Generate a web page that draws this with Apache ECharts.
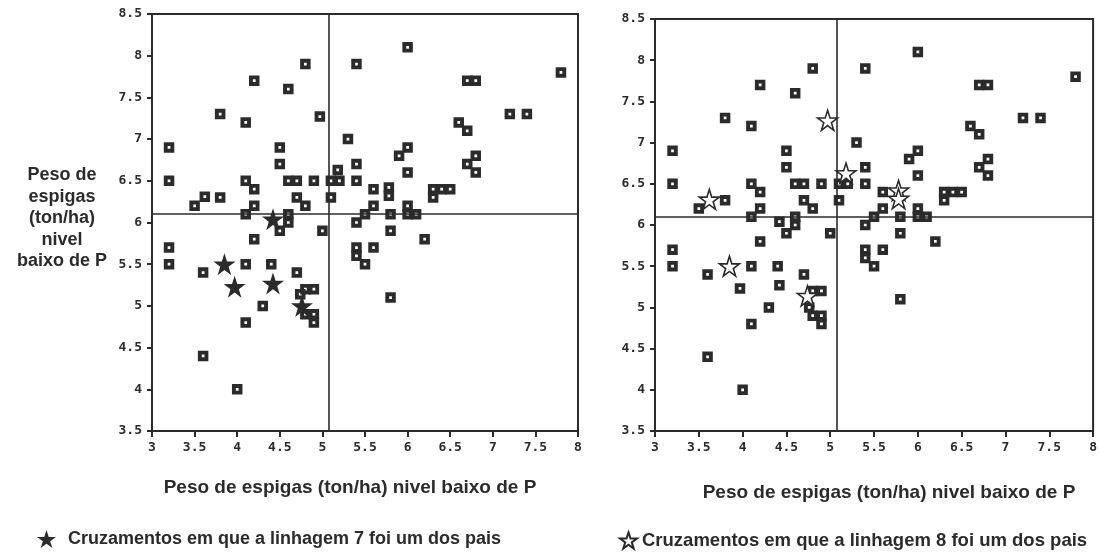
<!DOCTYPE html>
<html>
<head>
<meta charset="utf-8">
<script src="https://cdn.jsdelivr.net/npm/echarts@6/dist/echarts.min.js"></script>
<style>
  html, body { margin: 0; padding: 0; background: #ffffff; }
  #chart { width: 1100px; height: 553px; }
</style>
</head>
<body>
<div id="chart"></div>
<script>
// Points drawn as squares in both panels
var squarePts = [
  [3.2, 6.9], [3.2, 6.5], [3.5, 6.2], [3.8, 6.3], [3.8, 7.3], [4.2, 7.7], [4.1, 7.2],
  [4.6, 7.6], [4.8, 7.9], [4.5, 6.9], [4.5, 6.7], [4.1, 6.5], [4.2, 6.4], [4.2, 6.2],
  [4.1, 6.1], [4.6, 6.5], [4.7, 6.5], [4.7, 6.3], [4.8, 6.2], [4.9, 6.5], [5.1, 6.5],
  [5.2, 6.5], [5.1, 6.3], [4.6, 6.1], [4.6, 6.0], [4.5, 5.9], [5.0, 5.9], [3.2, 5.7],
  [3.2, 5.5], [3.6, 5.4], [4.2, 5.8], [4.1, 5.5], [4.4, 5.5], [4.7, 5.4], [4.8, 5.2],
  [4.9, 5.2], [4.8, 4.9], [4.9, 4.9], [4.9, 4.8], [4.3, 5.0], [4.1, 4.8], [3.6, 4.4],
  [4.0, 4.0], [6.0, 8.1], [5.4, 7.9], [6.7, 7.7], [6.8, 7.7], [7.2, 7.3], [7.4, 7.3],
  [7.8, 7.8], [6.6, 7.2], [6.7, 7.1], [5.3, 7.0], [6.0, 6.9], [5.9, 6.8], [6.8, 6.8],
  [6.7, 6.7], [6.8, 6.6], [5.4, 6.7], [6.0, 6.6], [5.4, 6.5], [5.6, 6.4], [5.6, 6.2],
  [5.5, 6.1], [5.4, 6.0], [5.8, 6.1], [6.0, 6.2], [6.0, 6.1], [6.1, 6.1], [6.3, 6.4],
  [6.4, 6.4], [6.5, 6.4], [6.3, 6.3], [5.8, 5.9], [6.2, 5.8], [5.4, 5.7], [5.4, 5.6],
  [5.5, 5.5], [5.6, 5.7], [5.8, 5.1]
];
// Crosses with line 7 as a parent (star on left panel)
var line7Pts = [[4.42, 6.04], [3.97, 5.23], [4.42, 5.27], [4.76, 5.0]];
// Crosses with line 8 as a parent (star on right panel)
var line8Pts = [[3.62, 6.31], [4.97, 7.27], [5.18, 6.63], [5.78, 6.42], [5.78, 6.32], [4.74, 5.14]];
// Crosses with both lines as parents
var bothPts = [[3.85, 5.5]];
// Reference lines (means)
var meanX = [5.07];
var meanY = [6.1];
var xTicks = ['3', '3.5', '4', '4.5', '5', '5.5', '6', '6.5', '7', '7.5', '8'];
var yTicks = ['3.5', '4', '4.5', '5', '5.5', '6', '6.5', '7', '7.5', '8', '8.5'];

var xTitle = 'Peso de espigas (ton/ha) nivel baixo de P';
var yTitle = 'Peso de\nespigas\n(ton/ha)\nnivel\nbaixo de P';
var legend7 = 'Cruzamentos em que a linhagem 7 foi um dos pais';
var legend8 = 'Cruzamentos em que a linhagem 8 foi um dos pais';

var INK = '#2b2b2b';
var squareSym = 'path://M0,0H10V10H0Z M3.7,3.7V6.3H6.3V3.7Z';
var starSym = 'path://M10,0L12.245,6.91L19.51,6.91L13.633,11.18L15.878,18.09L10,13.82L4.122,18.09L6.367,11.18L0.49,6.91L7.755,6.91Z';

function xAxisOpt(gi) {
  return {
    gridIndex: gi, type: 'value', min: 3, max: 8, interval: 0.5,
    axisLine: { show: true, onZero: false, lineStyle: { color: INK, width: 2 } },
    axisTick: { show: true, length: 6, lineStyle: { color: INK, width: 2 } },
    axisLabel: { color: INK, fontFamily: 'DejaVu Sans Mono', fontWeight: 'bold', fontSize: 13, margin: 10,
      formatter: function (v) { var s = String(+v.toFixed(1)); return xTicks.indexOf(s) >= 0 ? s : ''; } },
    splitLine: { show: false }
  };
}
function yAxisOpt(gi) {
  return {
    gridIndex: gi, type: 'value', min: 3.5, max: 8.5, interval: 0.5,
    axisLine: { show: true, onZero: false, lineStyle: { color: INK, width: 2 } },
    axisTick: { show: true, length: 5, lineStyle: { color: INK, width: 2 } },
    axisLabel: { color: INK, fontFamily: 'DejaVu Sans Mono', fontWeight: 'bold', fontSize: 13, margin: 10,
      formatter: function (v) { var s = String(+v.toFixed(1)); return yTicks.indexOf(s) >= 0 ? s : ''; } },
    splitLine: { show: false }
  };
}
function refLines(gi) {
  return {
    type: 'scatter', xAxisIndex: gi, yAxisIndex: gi, data: [], z: 1, silent: true,
    markLine: {
      silent: true, symbol: 'none', animation: false,
      label: { show: false },
      lineStyle: { color: INK, width: 1.6, type: 'solid' },
      data: [{ xAxis: meanX[0] }, { yAxis: meanY[0] }]
    }
  };
}

var chart = echarts.init(document.getElementById('chart'), null, { renderer: 'canvas' });
chart.setOption({
  animation: false,
  backgroundColor: '#ffffff',
  grid: [
    { left: 152, top: 14, width: 426, height: 417, show: true, borderColor: INK, borderWidth: 2, backgroundColor: 'transparent' },
    { left: 655, top: 19, width: 441, height: 412, show: true, borderColor: INK, borderWidth: 2, backgroundColor: 'transparent' }
  ],
  xAxis: [xAxisOpt(0), xAxisOpt(1)],
  yAxis: [yAxisOpt(0), yAxisOpt(1)],
  legend: [
    { data: [legend7], left: 32, top: 525, itemWidth: 19, itemHeight: 19, itemGap: 10,
      textStyle: { color: INK, fontFamily: 'Liberation Sans', fontWeight: 'bold', fontSize: 18, padding: [0, 0, 0, 7] } },
    { data: [legend8], left: 614, top: 526, itemWidth: 17, itemHeight: 17, itemGap: 10,
      textStyle: { color: INK, fontFamily: 'Liberation Sans', fontWeight: 'bold', fontSize: 18.5 } }
  ],
  graphic: [
    { type: 'text', x: 62, y: 218.5, style: { text: yTitle, textAlign: 'center', textVerticalAlign: 'middle', fill: INK,
        font: 'bold 18px "Liberation Sans"', lineHeight: 21.5 } },
    { type: 'text', x: 350, y: 488, style: { text: xTitle, textAlign: 'center', textVerticalAlign: 'middle', fill: INK,
        font: 'bold 19px "Liberation Sans"' } },
    { type: 'text', x: 889, y: 493, style: { text: xTitle, textAlign: 'center', textVerticalAlign: 'middle', fill: INK,
        font: 'bold 19px "Liberation Sans"' } }
  ],
  series: [
    refLines(0),
    refLines(1),
    { name: 'sq-left', type: 'scatter', xAxisIndex: 0, yAxisIndex: 0, z: 3, silent: true,
      symbol: squareSym, symbolSize: 10.5, itemStyle: { color: INK, opacity: 1 },
      data: squarePts.concat(line8Pts) },
    { name: legend7, type: 'scatter', xAxisIndex: 0, yAxisIndex: 0, z: 4, silent: true,
      symbol: starSym, symbolSize: 22, itemStyle: { color: INK, opacity: 1 },
      data: line7Pts.concat(bothPts) },
    { name: 'sq-right', type: 'scatter', xAxisIndex: 1, yAxisIndex: 1, z: 3, silent: true,
      symbol: squareSym, symbolSize: 10.5, itemStyle: { color: INK, opacity: 1 },
      data: squarePts.concat(line7Pts) },
    { name: legend8, type: 'scatter', xAxisIndex: 1, yAxisIndex: 1, z: 4, silent: true,
      symbol: starSym, symbolSize: 20,
      itemStyle: { color: '#ffffff', borderColor: INK, borderWidth: 1.6, opacity: 1 },
      data: line8Pts.concat(bothPts) }
  ]
});
</script>
</body>
</html>
